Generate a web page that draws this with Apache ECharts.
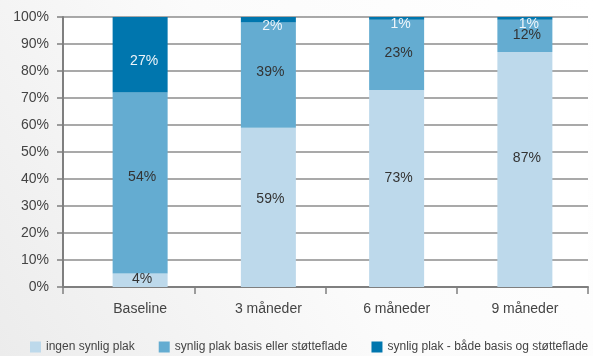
<!DOCTYPE html>
<html>
<head>
<meta charset="utf-8">
<script src="https://cdn.jsdelivr.net/npm/echarts@6/dist/echarts.min.js"></script>
<style>
  html, body { margin: 0; padding: 0; }
  #plakChart { width: 593px; height: 356px; }
</style>
</head>
<body>
<div id="plakChart"></div>
<script>
var categories = ['Baseline', '3 måneder', '6 måneder', '9 måneder'];
var seriesNames = ['ingen synlig plak', 'synlig plak basis eller støtteflade', 'synlig plak - både basis og støtteflade'];
// bar heights as drawn (percent of the 100% stack)
var ingenValues = [5, 59, 73, 87];
var basisValues = [67, 39, 26, 12];
var baadeValues = [28, 2, 1, 1];
// the percentages printed on the bars
var ingenLabels = [4, 59, 73, 87];
var basisLabels = [54, 39, 23, 12];
var baadeLabels = [27, 2, 1, 1];
var yTicks = [0, 10, 20, 30, 40, 50, 60, 70, 80, 90, 100];

var font = "'Liberation Sans', Arial, sans-serif";
var colors = ['#bdd9eb', '#64acd1', '#0076ae'];

function makeData(values, labels) {
  return values.map(function (v, i) {
    return { value: v, labelText: labels[i] + '%' };
  });
}

var chart = echarts.init(document.getElementById('plakChart'));

var options = {
  backgroundColor: {
    type: 'linear',
    x: 1, y: 0, x2: 0, y2: 1,
    colorStops: [
      { offset: 0, color: '#ffffff' },
      { offset: 0.5, color: '#fbfbfb' },
      { offset: 1, color: '#ececec' }
    ]
  },
  animation: false,
  textStyle: { fontFamily: font },
  color: colors,
  legend: {
    data: seriesNames,
    left: 25,
    top: 336,
    width: 568,
    padding: 5,
    itemWidth: 11,
    itemHeight: 11,
    itemGap: 24,
    icon: 'rect',
    textStyle: { color: '#444', fontSize: 12, fontFamily: font }
  },
  grid: [
    // axes, ticks and grid lines
    { left: 63, right: 5, top: 17, bottom: 69, show: true, backgroundColor: '#ffffff', borderWidth: 0 },
    // bars
    { left: 76, right: 4, top: 17, bottom: 69 }
  ],
  xAxis: [
    {
      gridIndex: 0,
      type: 'category',
      data: categories,
      axisLine: { lineStyle: { color: '#7f7f7f', width: 2 } },
      axisTick: { show: true, length: 7, lineStyle: { color: '#7f7f7f', width: 1.5 } },
      axisLabel: { show: false },
      splitLine: { show: false }
    },
    {
      gridIndex: 1,
      type: 'category',
      data: categories,
      axisLine: { show: false },
      axisTick: { show: false },
      axisLabel: { color: '#444', fontSize: 14, fontFamily: font, margin: 15 }
    }
  ],
  yAxis: [
    {
      gridIndex: 0,
      type: 'value',
      min: yTicks[0],
      max: yTicks[yTicks.length - 1],
      interval: 10,
      axisLine: { show: true, lineStyle: { color: '#7f7f7f', width: 2 } },
      axisTick: { show: true, length: 6, lineStyle: { color: '#7f7f7f', width: 1.5 } },
      axisLabel: { color: '#444', fontSize: 14, fontFamily: font, margin: 14, formatter: '{value}%' },
      splitLine: { show: true, lineStyle: { color: '#8c8c8c', width: 1.5 } }
    },
    {
      gridIndex: 1,
      type: 'value',
      min: 0,
      max: 100,
      show: false
    }
  ],
  series: [
    {
      name: seriesNames[0],
      type: 'bar',
      stack: 'plak',
      xAxisIndex: 1,
      yAxisIndex: 1,
      barWidth: 55,
      data: makeData(ingenValues, ingenLabels),
      label: {
        show: true,
        position: ['50%', '45%'],
        align: 'center',
        verticalAlign: 'middle',
        offset: [2, 0],
        color: '#333',
        fontSize: 14,
        fontFamily: font,
        formatter: function (p) { return p.data.labelText; }
      }
    },
    {
      name: seriesNames[1],
      type: 'bar',
      stack: 'plak',
      xAxisIndex: 1,
      yAxisIndex: 1,
      barWidth: 55,
      data: makeData(basisValues, basisLabels),
      label: {
        show: true,
        position: ['50%', '47%'],
        align: 'center',
        verticalAlign: 'middle',
        offset: [2, 0],
        color: '#333',
        fontSize: 14,
        fontFamily: font,
        formatter: function (p) { return p.data.labelText; }
      }
    },
    {
      name: seriesNames[2],
      type: 'bar',
      stack: 'plak',
      xAxisIndex: 1,
      yAxisIndex: 1,
      barWidth: 55,
      data: makeData(baadeValues, baadeLabels),
      label: {
        show: true,
        position: 'inside',
        offset: [4, 6],
        color: '#eef5fa',
        fontSize: 14,
        fontFamily: font,
        formatter: function (p) { return p.data.labelText; }
      }
    }
  ]
};

chart.setOption(options);
</script>
</body>
</html>
